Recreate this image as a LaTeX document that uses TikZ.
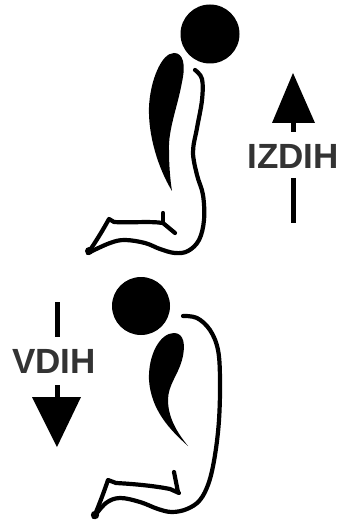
\documentclass[tikz,border=0pt]{standalone}
\usepackage{fontspec}
\setmainfont{Liberation Sans}
\begin{document}
\begin{tikzpicture}[x=1pt,y=-1pt,
  body/.style={line width=4.2pt,line cap=round,line join=round},
  stem/.style={line width=5pt},
  label/.style={inner sep=0pt,anchor=base,text=black!80,font=\fontsize{35}{40}\selectfont\bfseries}]
\useasboundingbox (0,0) rectangle (342,526);

% ---------- upper figure: rising ----------
\fill (210,34) circle (29.5);
\fill (172,191) .. controls (158,168) and (148,135) .. (149,107)
      .. controls (150,82) and (161,53) .. (174,53)
      .. controls (183,53) and (186,64) .. (182,82)
      .. controls (178,105) and (168,130) .. (169,150)
      .. controls (169,170) and (171,185) .. (172,191) -- cycle;
\draw[body] plot[smooth,tension=0.6] coordinates {(195,70) (202,79) (202,100) (197,128) (193,152) (197,175) (203,195) (204,220) (199,240) (188,251) (175,253) (160,249) (145,243) (125,240) (110,243) (88,253)};
\draw[body] (88,253) .. controls (97,240) and (104,228) .. (109,219)
      -- (114,222) .. controls (130,223) and (150,221) .. (163,223) -- (175,233);
\draw[body] (163,213) -- (163,223);
\fill (89,251) circle (4);

% ---------- lower figure: bending ----------
\fill (141,306) circle (29);
\fill (188,446) .. controls (170,430) and (151,410) .. (149,380)
      .. controls (148,355) and (160,333) .. (174,333)
      .. controls (184,333) and (186,345) .. (182,360)
      .. controls (178,375) and (168,385) .. (168,400)
      .. controls (168,420) and (180,436) .. (188,446) -- cycle;
\draw[body] plot[smooth,tension=0.6] coordinates {(183,316) (197,318) (210,330) (218,350) (220,380) (219,420) (215,455) (209,482) (200,500) (187,509) (172,512) (158,509) (140,502) (120,498) (106,503) (94,517)};
\draw[body] (94,517) .. controls (99,505) and (104,492) .. (108,480)
      -- (116,483) .. controls (135,484) and (155,486) .. (170,489) -- (179,493);
\draw[body] (174,472) -- (178,492);
\fill (95,515) circle (4.2);

% ---------- up arrow with label ----------
\node[label] (izdih) at (293,169) {IZDIH};
\coordinate (upTip) at (293,73);
\fill (upTip) -- (272,123) -- (315,123) -- cycle;
\draw[stem] (293,122) -- (293,132);
\draw[stem] (293,178) -- (293,223);

% ---------- down arrow with label ----------
\node[label] (vdih) at (54,373) {VDIH};
\coordinate (downTip) at (57,447);
\draw[stem] (57,302) -- (57,337);
\draw[stem] (57,385) -- (57,398);
\fill (downTip) -- (32,397) -- (81,397) -- cycle;
\end{tikzpicture}
\end{document}
